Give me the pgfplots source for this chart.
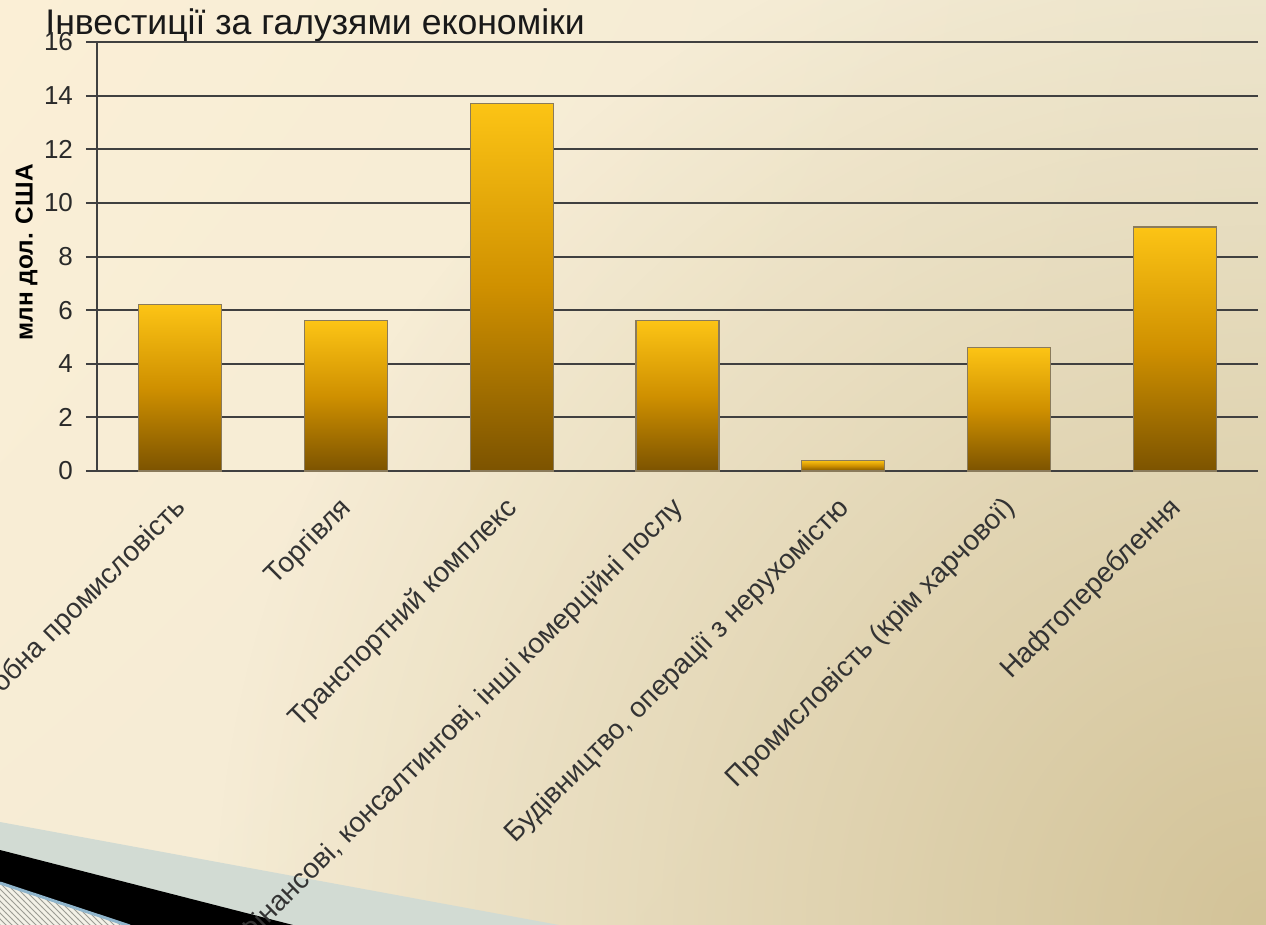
\documentclass[border=0pt]{standalone}
\usepackage{pgfplots}
\pgfplotsset{compat=1.18}
\usepackage{fontspec}
\setmainfont{Liberation Sans}
\usetikzlibrary{patterns,fadings,shadings}
\definecolor{bgTL}{HTML}{FBEFD6}
\definecolor{bgTR}{HTML}{F1EAD4}
\definecolor{bgBL}{HTML}{F6ECD5}
\definecolor{bgBR}{HTML}{F1E9D2}
\definecolor{bgCorner}{HTML}{D3C398}
\definecolor{swGray}{HTML}{D2DBD3}
\definecolor{hatchBg}{HTML}{F3F1E7}
\definecolor{hatchLn}{HTML}{9C9C94}
\definecolor{blueLn}{HTML}{8FB5CC}
\definecolor{barTop}{HTML}{FCC415}
\definecolor{barMid}{HTML}{CF9000}
\definecolor{barBot}{HTML}{7C5300}
\definecolor{barEdge}{HTML}{8A7B5C}
\definecolor{gridc}{HTML}{404040}
\definecolor{tickc}{HTML}{2A2A2A}
\definecolor{labc}{HTML}{333333}
\tikzfading[name=cornerfade, inner color=transparent!0, outer color=transparent!100]
\begin{document}
\begin{tikzpicture}[x=0.5pt,y=-0.5pt]
\useasboundingbox (0,0) rectangle (1266,925);
\clip (0,0) rectangle (1266,925);
% background
\shade[upper left=bgTL, upper right=bgTR, lower left=bgBL, lower right=bgBR] (0,0) rectangle (1266,925);
\fill[bgCorner, path fading=cornerfade, fit fading=true] (1266,925) circle [radius=1050];
% decorative swoosh
\fill[swGray] (0,822) -- (559,925) -- (0,925) -- cycle;
\fill[hatchBg] (0,882) -- (130,925) -- (0,925) -- cycle;
\fill[pattern=north west lines, pattern color=hatchLn] (0,882) -- (130,925) -- (0,925) -- cycle;
\fill[black] (0,850) -- (293,925) -- (130,925) -- (0,882) -- cycle;
\draw[blueLn, line width=1.5] (0,883) -- (130,926);
% title
\node[anchor=base west, inner sep=0pt, text=black!90, font=\fontsize{17.8}{20}\selectfont] at (45,35) {Інвестиції за галузями економіки};
\begin{axis}[
  at={(48.5pt,-235.5pt)}, anchor=south west,
  scale only axis, width=580.5pt, height=214.5pt,
  xmin=-0.5, xmax=6.5, ymin=0, ymax=16,
  ytick={0,2,...,16},
  xtick={0,1,2,3,4,5,6},
  xticklabels={Переробна промисловість, Торгівля, Транспортний комплекс, {Фінансові, консалтингові, інші комерційні послу}, {Будівництво, операції з нерухомістю}, {Промисловість (крім харчової)}, Нафтопереблення},
  axis x line*=bottom, axis y line*=left,
  ymajorgrids, grid style={gridc, line width=1pt},
  axis line style={gridc, line width=1pt},
  tick align=outside, major tick length=5.5pt,
  ytick style={gridc, line width=1pt},
  xtick style={draw=none},
  /pgf/number format/assume math mode=true,
  yticklabel style={font=\fontsize{13}{15}\selectfont, text=tickc, xshift=-3pt},
  xticklabel style={xshift=3.5pt, yshift=-13.5pt, rotate=45, anchor=base east, inner sep=0pt, font=\fontsize{14}{16}\selectfont, text=labc},
  ylabel={млн дол. США},
  ylabel style={font=\bfseries\fontsize{12.2}{14}\selectfont, text=black, at={(axis description cs:-0.0607,0.51)}, anchor=center},
  mybar/.style={ybar, bar shift=0pt, bar width=41.5pt, draw=barEdge, line width=0.6pt, top color=barTop, bottom color=barBot, middle color=barMid},
]
\addplot[mybar] coordinates {(0,6.2)};
\addplot[mybar] coordinates {(1,5.6)};
\addplot[mybar] coordinates {(2,13.7)};
\addplot[mybar] coordinates {(3,5.6)};
\addplot[mybar] coordinates {(4,0.4)};
\addplot[mybar] coordinates {(5,4.6)};
\addplot[mybar] coordinates {(6,9.1)};
\end{axis}
\end{tikzpicture}
\end{document}
